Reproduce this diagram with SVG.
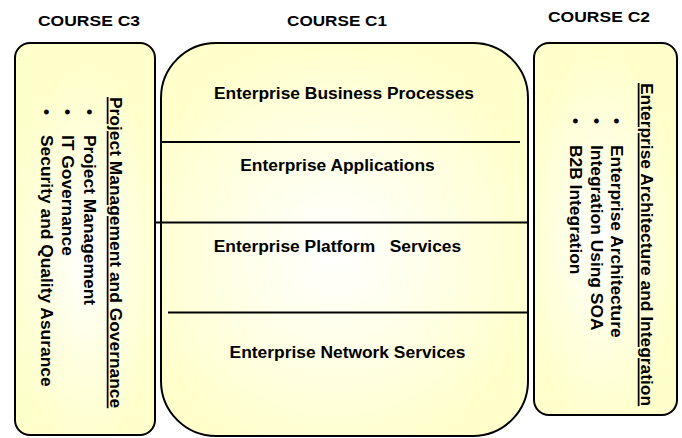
<svg xmlns="http://www.w3.org/2000/svg" width="682" height="438" viewBox="0 0 682 438">
  <defs>
    <radialGradient id="gC1" gradientUnits="userSpaceOnUse" cx="335" cy="250" r="210">
      <stop offset="0" stop-color="#FFFFFF"/>
      <stop offset="0.55" stop-color="#FFFFE4"/>
      <stop offset="1" stop-color="#FFFFCC"/>
    </radialGradient>
    <radialGradient id="gC3" gradientUnits="userSpaceOnUse" cx="85" cy="260" r="80" gradientTransform="translate(85 260) scale(1 2.4) translate(-85 -260)">
      <stop offset="0" stop-color="#FFFFFF"/>
      <stop offset="0.5" stop-color="#FFFFE2"/>
      <stop offset="1" stop-color="#FFFFCC"/>
    </radialGradient>
    <radialGradient id="gC2" gradientUnits="userSpaceOnUse" cx="600" cy="240" r="80" gradientTransform="translate(600 240) scale(1 2.4) translate(-600 -240)">
      <stop offset="0" stop-color="#FFFFFF"/>
      <stop offset="0.5" stop-color="#FFFFE2"/>
      <stop offset="1" stop-color="#FFFFCC"/>
    </radialGradient>
  </defs>
  <style>
    .box { stroke: #000; stroke-width: 2; }
    .div { stroke: #000; stroke-width: 2; }
    text { font-family: "Liberation Sans", Arial, sans-serif; fill: #000; }
    .head { font-size: 15.5px; font-weight: bold; text-anchor: middle; }
    .layer { font-size: 17.4px; font-weight: bold; text-anchor: middle; white-space: pre; }
    .title { font-size: 17.4px; font-weight: bold; text-decoration: underline; }
    .item { font-size: 17.4px; font-weight: bold; }
    .bul { font-size: 17.4px; font-weight: bold; text-anchor: middle; }
  </style>

  <g id="course-c3">
    <text class="head" x="89" y="26" textLength="102" lengthAdjust="spacingAndGlyphs">COURSE C3</text>
    <rect class="box" x="15" y="43" width="140" height="392" rx="15" ry="15" fill="url(#gC3)"/>
    <text class="title" transform="translate(109.5,0) rotate(90)" x="97" y="0">Project Management and Governance</text>
    <g transform="translate(83.5,0) rotate(90)">
      <text class="bul" x="112" y="0">•</text>
      <text class="item" x="135" y="0">Project Management</text>
    </g>
    <g transform="translate(62,0) rotate(90)">
      <text class="bul" x="112" y="0">•</text>
      <text class="item" x="135" y="0">IT Governance</text>
    </g>
    <g transform="translate(40.5,0) rotate(90)">
      <text class="bul" x="112" y="0">•</text>
      <text class="item" x="135" y="0">Security and Quality Asurance</text>
    </g>
  </g>

  <g id="course-c1">
    <text class="head" x="337" y="26" textLength="100" lengthAdjust="spacingAndGlyphs">COURSE C1</text>
    <rect class="box" x="161" y="43" width="367" height="393" rx="55" ry="55" fill="url(#gC1)"/>
    <text class="layer" x="344" y="99">Enterprise Business Processes</text>
    <text class="layer" x="337.5" y="171">Enterprise Applications</text>
    <text class="layer" x="337.5" y="252">Enterprise Platform   Services</text>
    <text class="layer" x="347.5" y="358">Enterprise Network Services</text>
  </g>

  <g id="connectors">
    <line class="div" x1="161" y1="142" x2="520" y2="142"/>
    <line class="div" x1="155" y1="222.5" x2="528" y2="222.5"/>
    <line class="div" x1="168" y1="312.5" x2="528" y2="312.5"/>
  </g>

  <g id="course-c2">
    <text class="head" x="599" y="22" textLength="102" lengthAdjust="spacingAndGlyphs">COURSE C2</text>
    <rect class="box" x="534" y="43" width="143" height="372" rx="15" ry="15" fill="url(#gC2)"/>
    <text class="title" transform="translate(640.5,0) rotate(90)" x="83" y="0">Enterprise Architecture and Integration</text>
    <g transform="translate(610.5,0) rotate(90)">
      <text class="bul" x="121" y="0">•</text>
      <text class="item" x="145" y="0">Enterprise Architecture</text>
    </g>
    <g transform="translate(590.5,0) rotate(90)">
      <text class="bul" x="121" y="0">•</text>
      <text class="item" x="145" y="0">Integration Using SOA</text>
    </g>
    <g transform="translate(569.5,0) rotate(90)">
      <text class="bul" x="121" y="0">•</text>
      <text class="item" x="145" y="0">B2B Integration</text>
    </g>
  </g>
</svg>
